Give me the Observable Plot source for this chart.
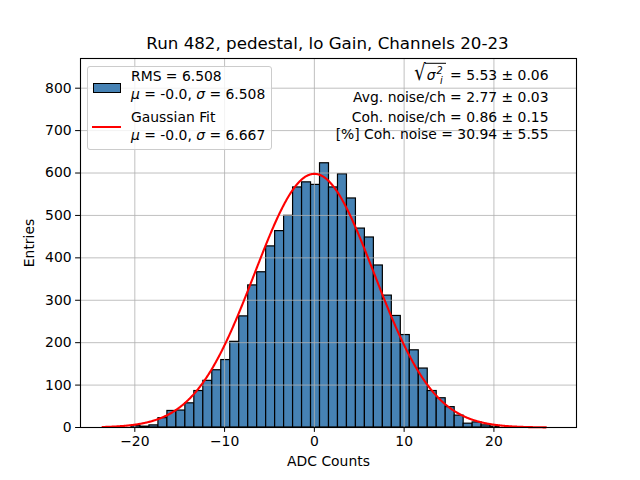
<!DOCTYPE html>
<html><head><meta charset="utf-8">
<script src="https://cdn.jsdelivr.net/npm/d3@7"></script>
<script src="https://cdn.jsdelivr.net/npm/@observablehq/plot@0.6"></script>
<style>
body{margin:0;background:#fff;}
#wrap{position:relative;width:640px;height:480px;font-family:"DejaVu Sans",sans-serif;color:#000;overflow:hidden;}
#wrap svg{position:absolute;left:0;top:0;}
.abs{position:absolute;white-space:nowrap;line-height:1.15;}
.vc{transform:translateY(-50%);}
#title{font-size:16.7px;left:0;width:655px;text-align:center;}
#legend{position:absolute;left:87px;top:65.5px;width:185px;height:84px;box-sizing:border-box;border:1px solid #cccccc;border-radius:3px;background:rgba(255,255,255,0.8);}
.sw{position:absolute;box-sizing:border-box;}
.lt{font-size:13.9px;}
.ann{font-size:13.9px;text-align:right;right:91.5px;}
.rad{font-size:18px;display:inline-block;transform:scaleY(1.25);transform-origin:bottom;vertical-align:-1px;}
.ov{display:inline-block;border-top:1.1px solid #000;padding:2px 3px 0 2px;line-height:1;margin-left:-1px;}
.st{display:inline-flex;flex-direction:column;font-size:9.7px;font-style:italic;vertical-align:middle;line-height:1;margin-left:1px;}
</style></head><body><div id="wrap"></div>
<script>
// ---- data ----
const binStart = -20.37;   // lower edge of first histogram bin
const binWidth = 1.0;
const counts = [4,2,5,22,39,40,57,86,110,135,159,202,262,335,366,427,463,499,566,
                578,572,623,566,597,540,469,448,382,311,263,218,182,139,86,69,48,28,9,12,5,2];
const fitMu = -0.0, fitSigma = 6.667, fitAmp = 598;  // Gaussian fit parameters
const fitRange = [-23.6, 25.8];
const histRMS = "6.508", histMu = "-0.0", histSigma = "6.508";
const xTicks = [-20, -10, 0, 10, 20];
const yTicks = [0, 100, 200, 300, 400, 500, 600, 700, 800];
const xDomain = [-26.05, 29.2];
const yDomain = [0, 870];
const titleText = "Run 482, pedestal, lo Gain, Channels 20-23";
const xLabel = "ADC Counts", yLabel = "Entries";
const annLines = ["= 5.53 ± 0.06", "Avg. noise/ch = 2.77 ± 0.03", "Coh. noise/ch = 0.86 ± 0.15", "[%] Coh. noise = 30.94 ± 5.55"];

// ---- derived tables ----
const bars = counts.map((c, i) => ({x1: binStart + i*binWidth, x2: binStart + (i+1)*binWidth, y: c}));
const curve = d3.range(fitRange[0], fitRange[1] + 1e-9, 0.05).map(x => ({x, y: fitAmp*Math.exp(-0.5*((x-fitMu)/fitSigma)**2)}));
const fmt = d => d < 0 ? "\u2212" + Math.abs(d) : String(d);

const chart = Plot.plot({
  width: 640, height: 480,
  marginLeft: 80, marginRight: 64, marginTop: 58, marginBottom: 53,
  style: {fontFamily: "DejaVu Sans", fontSize: "13.9px", color: "black", background: "transparent", overflow: "visible"},
  x: {domain: xDomain},
  y: {domain: yDomain},
  marks: [
    Plot.rectY(bars, {x1: "x1", x2: "x2", y: "y", fill: "#4682b4", stroke: "black", strokeWidth: 1.2}),
    Plot.gridX(xTicks, {stroke: "#b0b0b0", strokeOpacity: 1, strokeWidth: 0.8}),
    Plot.gridY(yTicks, {stroke: "#b0b0b0", strokeOpacity: 1, strokeWidth: 0.8}),
    Plot.line(curve, {x: "x", y: "y", stroke: "red", strokeWidth: 2.1}),
    Plot.frame({stroke: "black", strokeWidth: 1.1}),
    Plot.axisX({ticks: xTicks, tickFormat: fmt, tickSize: 4.9, tickPadding: 4, label: xLabel, labelAnchor: "center", labelArrow: "none", labelOffset: 38}),
    Plot.axisY({ticks: yTicks, tickFormat: fmt, tickSize: 4.9, tickPadding: 4, label: yLabel, labelAnchor: "center", labelArrow: "none", labelOffset: 56})
  ]
});
const wrap = document.getElementById("wrap");
wrap.appendChild(chart);

function add(html, cls, style) {
  const d = document.createElement("div");
  d.className = cls; d.innerHTML = html; Object.assign(d.style, style || {});
  wrap.appendChild(d); return d;
}
add(titleText, "abs vc", {}).id = "title";
document.getElementById("title").style.top = "44px";

// legend
const leg = add("", "", {}); leg.id = "legend";
wrap.appendChild(add(`<div class="sw" style="left:93px;top:83px;width:28px;height:9.5px;background:#4682b4;border:1.2px solid #000"></div>`, "", {}));
add(`RMS = ${histRMS}`, "abs vc lt", {left: "131px", top: "76px"});
add(`<i>μ</i> = ${histMu}, <i>σ</i> = ${histSigma}`, "abs vc lt", {left: "131px", top: "93.5px"});
add(`<div class="sw" style="left:92px;top:126.3px;width:29px;height:2.1px;background:red"></div>`, "", {});
add(`Gaussian Fit`, "abs vc lt", {left: "131px", top: "116.5px"});
add(`<i>μ</i> = ${fitMu.toFixed(1) === "0.0" ? "-0.0" : fitMu.toFixed(1)}, <i>σ</i> = ${fitSigma.toFixed(3)}`, "abs vc lt", {left: "131px", top: "134.5px"});

// annotations
const sq = `<span class="rad">√</span><span class="ov"><i>σ</i><span class="st"><span>2</span><span>i</span></span></span> `;
add(sq + annLines[0], "abs vc ann", {top: "74px"});
add(annLines[1], "abs vc ann", {top: "96.7px"});
add(annLines[2], "abs vc ann", {top: "117.3px"});
add(annLines[3], "abs vc ann", {top: "134.3px"});
</script></body></html>
